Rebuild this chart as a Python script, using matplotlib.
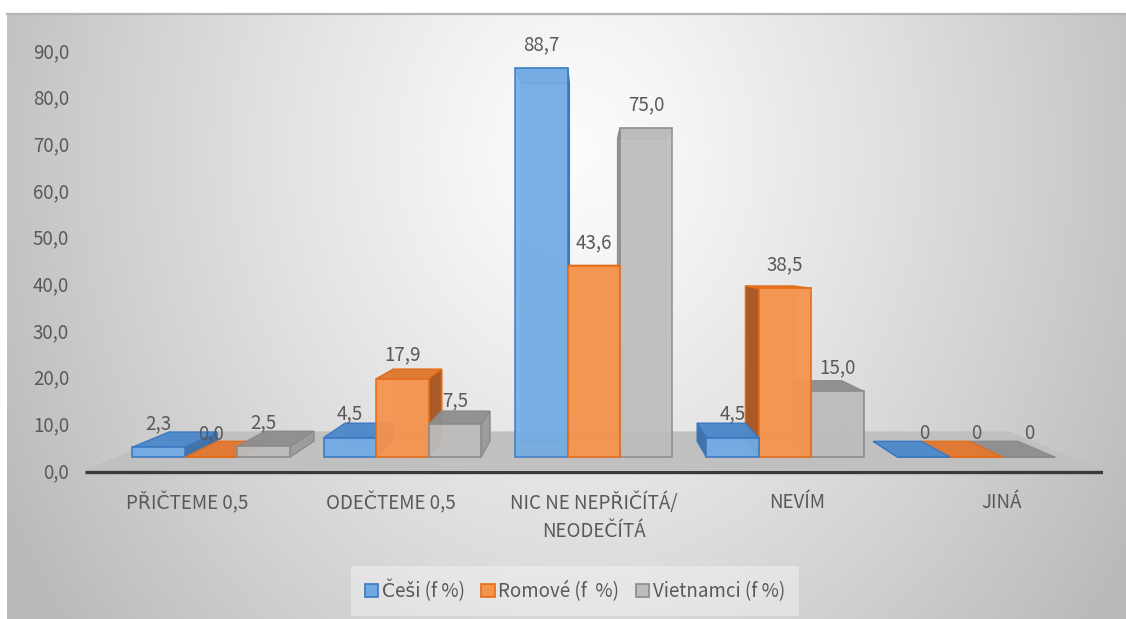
import numpy as np
import matplotlib
matplotlib.use("Agg")
import matplotlib.pyplot as plt
from matplotlib.patches import Polygon, Patch

categories = ['PŘIČTEME 0,5', 'ODEČTEME 0,5', 'NIC NE NEPŘIČÍTÁ/\nNEODEČÍTÁ', 'NEVÍM', 'JINÁ']
series_names = ['Češi (f %)', 'Romové (f  %)', 'Vietnamci (f %)']
cesi = [2.3, 4.5, 88.7, 4.5, 0]
romove = [0.0, 17.9, 43.6, 38.5, 0]
vietnamci = [2.5, 7.5, 75.0, 15.0, 0]
label_decimals = [1, 1, 1, 1, 0]
yticks = np.arange(0, 100, 10)

# front, top, side, edge
palette = [
    ('#70aae4', '#4d88c9', '#3b6fa8', '#3a78c2'),
    ('#f5944e', '#e0772f', '#a65420', '#e46c17'),
    ('#bcbcbc', '#8e8e8e', '#9b9b9b', '#8a8a8a'),
]

plt.rcParams['font.family'] = ['Noto Sans CJK SC', 'DejaVu Sans']
TXT = '#595959'
FS = 13.5

W, H = 1126, 619
fig = plt.figure(figsize=(W / 100, H / 100), dpi=100)

# background: white margin, grey radial fill for the chart area
bg = fig.add_axes([0, 0, 1, 1], zorder=-5)
yy, xx = np.mgrid[0:H, 0:W]
r = np.sqrt(((xx - 575) / 580.0) ** 2 + ((yy - 150) / 700.0) ** 2)
g = np.clip(252 - 58 * r ** 1.2, 185, 252) / 255.0
g[yy < 13] = 1.0
g[:, :7] = 1.0
bg.imshow(np.dstack([g, g, g]), extent=(0, W, H, 0), aspect='auto', interpolation='bilinear')
bg.plot([7, W], [13.5, 13.5], color='#b4b4b4', lw=1.6)
bg.set_xlim(0, W)
bg.set_ylim(H, 0)
bg.axis('off')

# main axes: x in category units, y in value units on the front plane
px_per_unit = 4.667
zero_px = 470
x0_px, x1_px = 85, 1103
ax = fig.add_axes([x0_px / W, 0, (x1_px - x0_px) / W, 1])
ax.set_xlim(-0.5, 4.5)
ax.set_ylim(-(H - zero_px) / px_per_unit, zero_px / px_per_unit)
ax.patch.set_alpha(0)
for sp in ax.spines.values():
    sp.set_visible(False)
ax.set_xticks([])
ax.set_yticks(yticks)
ax.set_yticklabels([f'{t:.1f}'.replace('.', ',') for t in yticks], color=TXT, fontsize=FS)
ax.tick_params(axis='y', length=0, pad=11.5)

cat_px = (x1_px - x0_px) / 5
VX = (590 - x0_px) / cat_px - 0.5
VY = (zero_px - 258) / px_per_unit
S_FRONT, S_BACK, S_FLOOR = 0.94, 0.94 * 0.92, 0.818


def proj(x, v, s):
    return (VX + (x - VX) * s, VY + (v - VY) * s)


def face(pts, fc, ec, z, alpha=1.0, lw=1.0):
    ax.add_patch(Polygon([proj(*p) for p in pts], closed=True, facecolor=fc,
                         edgecolor=ec, lw=lw, alpha=alpha, zorder=z))


# floor and axis line
face([(-0.5, 0, 1), (4.5, 0, 1), (4.5, 0, S_FLOOR), (-0.5, 0, S_FLOOR)], '#c0c0c0', 'none', 1)
ax.plot([-0.5, 4.5], [-0.5, -0.5], color='#3a3a3a', lw=2.4, zorder=2, solid_capstyle='butt')

bw = 0.274
bars = []
for k, vals in enumerate([cesi, romove, vietnamci]):
    for i, v in enumerate(vals):
        xc = i + (k - 1) * bw
        bars.append((abs(xc - VX), xc, v, k, i))
bars.sort(reverse=True)

z = 3
for _, xc, v, k, i in bars:
    front, top, side, edge = palette[k]
    a, b = xc - bw / 2, xc + bw / 2
    # back outline shows faintly through the translucent faces
    face([(a, 0, S_BACK), (b, 0, S_BACK), (b, v, S_BACK), (a, v, S_BACK)], front, edge, z, alpha=0.35, lw=0.8)
    if a > VX:
        face([(a, 0, S_FRONT), (a, v, S_FRONT), (a, v, S_BACK), (a, 0, S_BACK)], side, edge, z + 1, alpha=0.95)
    if b < VX:
        face([(b, 0, S_FRONT), (b, v, S_FRONT), (b, v, S_BACK), (b, 0, S_BACK)], side, edge, z + 1, alpha=0.95)
    face([(a, v, S_FRONT), (b, v, S_FRONT), (b, v, S_BACK), (a, v, S_BACK)], top, edge, z + 2,
         alpha=0.95 if v < VY else 0.5)
    face([(a, 0, S_FRONT), (b, 0, S_FRONT), (b, v, S_FRONT), (a, v, S_FRONT)], front, edge, z + 3,
         alpha=0.88 if v >= VY else 0.95, lw=1.2)
    z += 4

# value labels above the front top edge of each bar
for k, vals in enumerate([cesi, romove, vietnamci]):
    for i, v in enumerate(vals):
        xc = i + (k - 1) * bw
        txt = f'{v:.{label_decimals[i]}f}'.replace('.', ',')
        ax.annotate(txt, xy=proj(xc, v, S_FRONT), xytext=(0, 17), textcoords='offset points',
                    ha='center', va='center', fontsize=FS, color=TXT, zorder=200)

# category labels
for i, c in enumerate(categories):
    ax.text(i, -(492 - zero_px) / px_per_unit, c, ha='center', va='top', fontsize=FS,
            color=TXT, linespacing=1.45, zorder=200)

handles = [Patch(facecolor=p[0], edgecolor=p[3], lw=1.2) for p in palette]
leg = fig.legend(handles, series_names, loc='center', bbox_to_anchor=(575 / W, 1 - 591 / H),
                 ncol=3, frameon=True, fontsize=FS, handlelength=0.7, handleheight=0.7,
                 handletextpad=0.2, columnspacing=0.9, borderpad=0.75, borderaxespad=0,
                 fancybox=False)
leg.get_frame().set_facecolor('white')
leg.get_frame().set_alpha(0.35)
leg.get_frame().set_edgecolor('none')
for t in leg.get_texts():
    t.set_color(TXT)

fig.savefig('out.png', dpi=100)
